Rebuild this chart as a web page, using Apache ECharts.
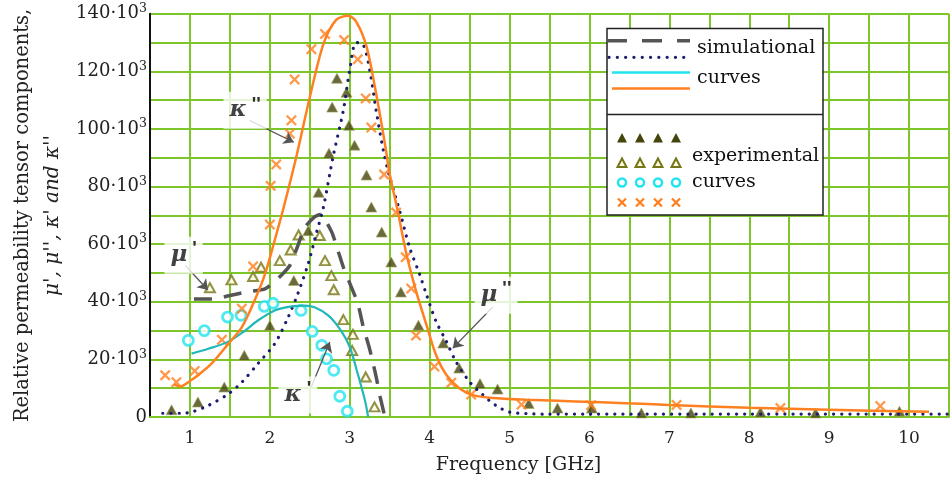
<!DOCTYPE html>
<html><head><meta charset="utf-8">
<script src="https://cdn.jsdelivr.net/npm/echarts@6/dist/echarts.min.js"></script>
<style>html,body{margin:0;padding:0;background:#fff}#c{width:952px;height:481px}</style>
</head><body><div id="c"></div>
<script>
// ---- data (frequency in GHz, values in units of 10^3) ----
const xTicks = [1, 2, 3, 4, 5, 6, 7, 8, 9, 10];
const yTicks = [0, 20, 40, 60, 80, 100, 120, 140];

// simulational curves
const muPrimeSim = [[1.05,41],[1.3,41],[1.5,42.2],[1.71,43.4],[1.94,44.5],[2.1,48],[2.25,52.6],[2.33,58],[2.44,65.9],[2.56,69.5],[2.63,70.3],[2.77,64.5],[2.85,58],[2.92,52],[3.0,46.5],[3.1,39.5],[3.17,31.2],[3.25,23.5],[3.33,14],[3.38,7],[3.44,0]];
const muDblSim = [[0.66,1.3],[0.9,1.3],[1.02,1.7],[1.23,4],[1.48,8],[1.65,12.1],[1.85,18.5],[2.06,25.4],[2.23,34.7],[2.35,42.8],[2.48,53.2],[2.58,63.6],[2.67,72.8],[2.79,90.2],[2.92,106.5],[3.0,120.5],[3.08,130],[3.17,129.2],[3.25,120.5],[3.33,106.5],[3.42,92.6],[3.5,83.3],[3.62,72],[3.75,58.8],[3.875,49.5],[3.96,42.5],[4.08,33.2],[4.21,26.2],[4.33,19.2],[4.5,12.2],[4.67,7.6],[4.83,4],[5.0,1.7],[5.21,1.2],[5.42,1],[6,1],[8,1],[10.5,1]];
const kappaPrimeSim = [[1.02,22],[1.23,23.7],[1.47,26],[1.69,30],[1.85,33.5],[2.06,37],[2.27,38.4],[2.44,38.7],[2.56,38.1],[2.73,35.3],[2.875,30.6],[3.0,24.3],[3.1,15],[3.19,5.8],[3.23,0]];
const kappaDblSim = [[0.8,11.3],[0.88,10.6],[1.0,12.5],[1.1,14.5],[1.27,18.5],[1.48,25.4],[1.65,31.2],[1.81,40.5],[1.94,49.7],[2.06,61.3],[2.17,72.5],[2.33,90.2],[2.5,111],[2.67,129.5],[2.83,137.9],[2.98,139.3],[3.08,137.3],[3.21,128.6],[3.33,112.3],[3.44,94.9],[3.5,84.4],[3.6,71.6],[3.71,56.5],[3.83,43.7],[3.96,32],[4.08,21.5],[4.21,14.6],[4.375,9.9],[4.54,7.6],[4.79,6.6],[5.21,6],[5.83,5.4],[6.46,4.8],[7.0,4.2],[8.0,3.2],[9.0,2.5],[10.25,1.8]];

// experimental curves
const muDblExp = [[0.77,2.5],[1.1,5.2],[1.43,10.4],[1.68,21.4],[2.0,31.8],[2.3,47.4],[2.48,64.7],[2.61,78],[2.74,91.6],[2.78,107.6],[2.84,117.6],[2.96,112.8],[2.99,101.3],[3.06,94.4],[3.21,84],[3.27,72.9],[3.40,64.2],[3.52,53.8],[3.64,43.4],[3.86,31.9],[4.17,25.7],[4.37,17.0],[4.63,11.6],[4.85,9.7],[5.24,4.7],[5.6,3.1],[6.03,3.1],[6.65,1.4],[7.27,1.4],[8.14,1.7],[8.83,1.4],[9.88,2]];
const muPrimeExp = [[1.25,44.9],[1.52,47.6],[1.79,48.8],[1.89,52],[2.125,54.3],[2.26,58],[2.36,63.2],[2.625,63],[2.69,54.3],[2.77,49.1],[2.8,44.2],[2.92,33.8],[3.04,28.7],[3.03,23.1],[3.2,13.9],[3.31,3.5]];
const kappaPrimeExp = [[0.98,26.6],[1.18,30],[1.47,34.7],[1.64,35.3],[1.93,38.4],[2.04,39.5],[2.39,37],[2.53,29.7],[2.65,24.9],[2.71,20.2],[2.8,16.2],[2.875,7.2],[2.97,2]];
const kappaDblExp = [[0.69,14.5],[0.83,12.1],[1.06,16],[1.4,26.8],[1.65,37.6],[1.79,52.3],[2.0,66.8],[2.01,80.3],[2.08,87.7],[2.25,98.4],[2.27,103],[2.31,117.2],[2.52,127.7],[2.69,133],[2.93,130.9],[3.1,124.2],[3.2,110.6],[3.27,100.5],[3.43,84.2],[3.58,71],[3.7,55.5],[3.77,44.6],[3.83,28.3],[4.06,17.5],[4.27,11.9],[4.52,7.8],[5.15,4.3],[6.02,4.1],[7.09,4.2],[8.39,3.1],[9.64,3.8]];

// annotations
const annotSymbol = ['κ', 'μ', 'κ', 'μ'];
const annotPrime = ["''", "'", "'", "''"];
const annotAt = [[1.69,106.5],[0.92,56.2],[2.35,7.6],[4.83,42.3]];
const arrowFrom = [[1.745,103],[0.94,52.7],[2.52,10.5],[4.79,38.2]];
const arrowTo = [[2.3,95.4],[1.225,44.1],[2.75,26],[4.29,23.9]];

// ---- styles ----
const SERIF = '"DejaVu Serif", "Liberation Serif", serif';
const GREEN = '#7cc62a';
const C_DASH = '#555555', C_DOT = '#1c1c70', C_CYAN_LINE = '#22b8b8', C_CYAN = '#22e4f0', C_ORANGE = '#ff8020';
const C_TRI = '#44440c', C_TRI_H = '#767618';
const CROSS = 'path://M0,1.5 L1.5,0 L5,3.5 L8.5,0 L10,1.5 L6.5,5 L10,8.5 L8.5,10 L5,6.5 L1.5,10 L0,8.5 L3.5,5 Z';

const chart = echarts.init(document.getElementById('c'), null, {renderer: 'canvas'});

// legend built as graphic
const LF = '19px ' + SERIF;
const lg = [];
lg.push({type:'rect', shape:{x:607, y:28.5, width:216, height:186.5}, style:{fill:'#fff', stroke:'#222', lineWidth:1.5}, z:100});
lg.push({type:'line', shape:{x1:607, y1:114.5, x2:823, y2:114.5}, style:{stroke:'#222', lineWidth:1.5}, z:101});
lg.push({type:'line', shape:{x1:607, y1:40.7, x2:690, y2:40.7}, style:{stroke:C_DASH, lineWidth:3.5, lineDash:[20,15]}, z:101});
lg.push({type:'line', shape:{x1:609, y1:57.3, x2:690, y2:57.3}, style:{stroke:C_DOT, lineWidth:3.2, lineDash:[0.1,8.2], lineCap:'round'}, z:101});
lg.push({type:'line', shape:{x1:612, y1:72.5, x2:690, y2:72.5}, style:{stroke:C_CYAN, lineWidth:2.5}, z:101});
lg.push({type:'line', shape:{x1:612, y1:88.5, x2:690, y2:88.5}, style:{stroke:C_ORANGE, lineWidth:2.5}, z:101});
lg.push({type:'text', x:697, y:48.5, style:{text:'simulational', font:LF, fill:'#111', verticalAlign:'middle'}, z:101});
lg.push({type:'text', x:697, y:78.5, style:{text:'curves', font:LF, fill:'#111', verticalAlign:'middle'}, z:101});
lg.push({type:'text', x:692, y:156.5, style:{text:'experimental', font:LF, fill:'#111', verticalAlign:'middle'}, z:101});
lg.push({type:'text', x:692, y:182.5, style:{text:'curves', font:LF, fill:'#111', verticalAlign:'middle'}, z:101});
[622, 640, 658, 676].forEach(function (x) {
  lg.push({type:'polygon', shape:{points:[[x,133],[x+5,142.5],[x-5,142.5]]}, style:{fill:C_TRI}, z:101});
  lg.push({type:'polygon', shape:{points:[[x,158.5],[x+4.5,167],[x-4.5,167]]}, style:{fill:'#fafae0', stroke:C_TRI_H, lineWidth:2}, z:101});
  lg.push({type:'circle', shape:{cx:x, cy:182.5, r:4}, style:{fill:'#fff', stroke:C_CYAN, lineWidth:2.5}, z:101});
  lg.push({type:'line', shape:{x1:x-4, y1:198.5, x2:x+4, y2:206.5}, style:{stroke:C_ORANGE, lineWidth:2.3}, z:101});
  lg.push({type:'line', shape:{x1:x-4, y1:206.5, x2:x+4, y2:198.5}, style:{stroke:C_ORANGE, lineWidth:2.3}, z:101});
});

const annotData = annotAt.map(function (p, i) { return {value: p, sym: annotSymbol[i], pr: annotPrime[i]}; });
const arrowData = arrowFrom.map(function (p, i) { return [{coord: p}, {coord: arrowTo[i]}]; });

const option = {
  backgroundColor: '#fff',
  animation: false,
  grid: {left: 150, top: 13.8, width: 806, height: 403.2, containLabel: false},
  xAxis: {
    type: 'value', min: 0.5, max: 10.5, interval: 0.5,
    name: 'Frequency [GHz]', nameLocation: 'middle', nameGap: 39,
    nameTextStyle: {fontFamily: SERIF, fontSize: 19, color: '#222', padding: [0, 62, 0, 0]},
    axisLine: {show: true, lineStyle: {color: GREEN, width: 2}},
    axisTick: {show: false},
    axisLabel: {margin: 13, fontFamily: SERIF, fontSize: 17, color: '#222',
      formatter: function (v) { return xTicks.indexOf(v) >= 0 ? String(v) : ''; }},
    splitLine: {show: true, lineStyle: {color: GREEN, width: 2}}
  },
  yAxis: {
    type: 'value', min: 0, max: 140, interval: 10,
    name: '{a|Relative permeability tensor components,}\n{b|μ\', μ\'\', κ\' and κ\'\'}',
    nameLocation: 'middle', nameRotate: 90, nameGap: 82,
    nameTextStyle: {color: '#222', rich: {
      a: {fontFamily: SERIF, fontSize: 19.5, lineHeight: 30, color: '#222'},
      b: {fontFamily: SERIF, fontSize: 20, fontStyle: 'italic', lineHeight: 30, color: '#222'}
    }},
    axisLine: {show: true, lineStyle: {color: '#111', width: 2}},
    axisTick: {show: false},
    axisLabel: {margin: 3, color: '#222',
      formatter: function (v) {
        if (yTicks.indexOf(v) < 0) return '';
        return v === 0 ? '{n|0}' : '{n|' + v + '·10}{s|3}';
      },
      rich: {n: {fontFamily: SERIF, fontSize: 18, color: '#222'}, s: {fontFamily: SERIF, fontSize: 12.5, color: '#222', padding: [0, 0, 10, 0]}}
    },
    splitLine: {show: true, lineStyle: {color: GREEN, width: 2}}
  },
  graphic: lg,
  series: [
    {name: 'μ″ experimental', type: 'scatter', data: muDblExp, symbol: 'triangle', symbolSize: [11, 10],
     itemStyle: {color: C_TRI, borderColor: '#a8a860', borderWidth: 0.8}, z: 3},
    {name: 'μ′ experimental', type: 'scatter', data: muPrimeExp, symbol: 'triangle', symbolSize: [10, 9],
     itemStyle: {color: '#fafae0', borderColor: C_TRI_H, borderWidth: 2}, z: 3},
    {name: 'κ′ experimental', type: 'scatter', data: kappaPrimeExp, symbol: 'circle', symbolSize: 10,
     itemStyle: {color: '#fff', borderColor: C_CYAN, borderWidth: 2.8}, z: 3},
    {name: 'κ″ experimental', type: 'scatter', data: kappaDblExp, symbol: CROSS, symbolSize: 11,
     itemStyle: {color: C_ORANGE}, z: 3},
    {name: 'μ′ simulational', type: 'line', data: muPrimeSim, showSymbol: false, smooth: 0.2,
     lineStyle: {color: C_DASH, width: 3.5, type: [18, 12]}, z: 4},
    {name: 'μ″ simulational', type: 'line', data: muDblSim, showSymbol: false, smooth: 0.3,
     lineStyle: {color: C_DOT, width: 3.2, type: [0.1, 8], cap: 'round'}, z: 4},
    {name: 'κ′ simulational', type: 'line', data: kappaPrimeSim, showSymbol: false, smooth: 0.3,
     lineStyle: {color: C_CYAN_LINE, width: 2.2}, z: 4},
    {name: 'κ″ simulational', type: 'line', data: kappaDblSim, showSymbol: false, smooth: 0.3,
     lineStyle: {color: C_ORANGE, width: 2.5}, z: 4},
    {name: 'annotations', type: 'scatter', data: annotData, symbolSize: 1, clip: false, z: 6, silent: true,
     itemStyle: {color: 'rgba(0,0,0,0)'},
     labelLayout: {hideOverlap: false},
     label: {show: true, position: 'inside', backgroundColor: '#fff', padding: [3, 6],
       formatter: function (p) { return '{g|' + p.data.sym + '}{p|' + p.data.pr + '}'; },
       rich: {
         g: {fontFamily: SERIF, fontStyle: 'italic', fontWeight: 'bold', fontSize: 23, color: '#111'},
         p: {fontFamily: '"Liberation Sans", "DejaVu Sans", sans-serif', fontWeight: 'bold', fontSize: 19, color: '#000', padding: [0, 0, 12, 5]}
       }},
     markLine: {silent: true, symbol: ['none', 'arrow'], symbolSize: 10, label: {show: false},
       lineStyle: {color: '#555', width: 1.3, type: 'solid'}, data: arrowData}
    }
  ]
};
chart.setOption(option);
</script>
</body></html>
